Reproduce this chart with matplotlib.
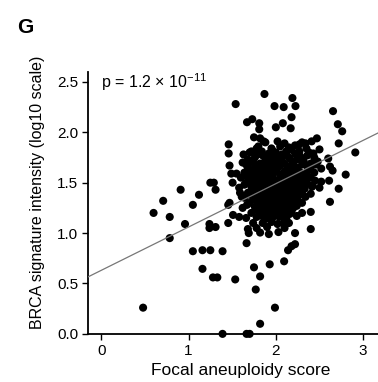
import numpy as np
import matplotlib.pyplot as plt

plt.rcParams['font.family'] = ['Liberation Sans', 'DejaVu Sans']
plt.rcParams['mathtext.fontset'] = 'custom'
plt.rcParams['mathtext.rm'] = 'Liberation Sans'
plt.rcParams['mathtext.it'] = 'Liberation Sans:italic'

# punti isolati (focal aneuploidy score, BRCA intensity)
punti_esterni = [
    (0.48, 0.26), (0.60, 1.20), (0.71, 1.32), (0.785, 1.16), (0.785, 0.95),
    (0.96, 1.09), (1.05, 1.28), (1.12, 1.38), (0.91, 1.43), (1.31, 1.43),
    (1.05, 0.82), (1.16, 0.83), (1.25, 0.83), (1.39, 0.82), (1.16, 0.645),
    (1.28, 0.56), (1.33, 0.56), (1.24, 1.09), (1.24, 1.05), (1.31, 1.06),
    (1.455, 1.28), (1.455, 1.10), (1.39, 0.0), (1.535, 0.54), (1.665, 0.0),
    (1.70, 0.0), (1.82, 0.10), (1.99, 0.26), (1.77, 0.44), (1.82, 0.57),
    (1.75, 0.66), (1.93, 0.69), (2.095, 0.72), (2.14, 0.83), (2.18, 0.87),
    (2.22, 0.89), (2.40, 1.04), (2.40, 1.21), (2.24, 1.17), (2.22, 1.00),
    (2.03, 1.01), (1.665, 0.90), (1.69, 1.00), (1.68, 1.04), (1.82, 1.005),
    (1.92, 0.99), (2.62, 1.31), (1.51, 1.18), (1.58, 1.16), (2.09, 1.10),
    (1.85, 1.10), (2.80, 1.58), (2.72, 1.44), (2.52, 1.51), (2.61, 1.52),
    (2.415, 1.46), (2.26, 1.31), (2.26, 1.37), (2.18, 1.29), (2.65, 1.62),
    (1.87, 2.38), (2.19, 2.34), (1.985, 2.26), (2.09, 2.25), (2.225, 2.26),
    (2.18, 2.15), (2.00, 2.05), (2.08, 2.09), (2.17, 2.04), (2.655, 2.21),
    (2.71, 2.08), (2.76, 2.01), (2.72, 1.89), (2.91, 1.80), (2.47, 1.94),
    (2.41, 1.91), (2.34, 1.89), (2.27, 1.88), (2.22, 1.87), (2.50, 1.83),
    (2.43, 1.79), (2.60, 1.74), (2.62, 1.66), (2.48, 1.71), (1.54, 2.28),
    (1.67, 2.10), (1.73, 2.13), (1.81, 2.09), (1.81, 2.03), (1.75, 1.95),
    (1.82, 1.94), (1.86, 1.91), (1.46, 1.88), (1.46, 1.79), (1.47, 1.67),
    (1.63, 1.78), (1.66, 1.68), (1.72, 1.81), (1.78, 1.84), (1.49, 1.59),
    (1.55, 1.59), (1.25, 1.50), (1.29, 1.50), (1.505, 1.50), (1.59, 1.40),
    (1.61, 1.36), (1.47, 1.30),
]

# nucleo denso della nuvola
punti_nucleo = [
    (1.88, 1.90), (2.02, 1.91), (2.10, 1.89), (2.30, 1.90),
    (1.80, 1.86), (1.95, 1.84), (2.05, 1.86), (2.15, 1.85), (2.35, 1.84),
    (1.70, 1.80), (1.84, 1.81), (1.92, 1.79), (2.00, 1.80), (2.12, 1.81), (2.22, 1.79), (2.38, 1.80),
    (1.76, 1.75), (1.88, 1.74), (1.98, 1.76), (2.06, 1.75), (2.16, 1.74), (2.28, 1.76), (2.44, 1.75),
    (1.62, 1.70), (1.72, 1.71), (1.82, 1.69), (1.90, 1.70), (2.01, 1.71), (2.10, 1.69), (2.20, 1.70), (2.32, 1.71), (2.40, 1.69),
    (1.68, 1.65), (1.78, 1.66), (1.86, 1.64), (1.95, 1.65), (2.04, 1.66), (2.14, 1.64), (2.24, 1.65), (2.36, 1.66), (2.52, 1.64),
    (1.64, 1.60), (1.74, 1.61), (1.84, 1.59), (1.92, 1.60), (2.00, 1.61), (2.08, 1.59), (2.18, 1.60), (2.27, 1.61), (2.34, 1.59), (2.44, 1.60),
    (1.60, 1.55), (1.70, 1.56), (1.80, 1.54), (1.88, 1.55), (1.96, 1.56), (2.05, 1.54), (2.12, 1.55), (2.22, 1.56), (2.31, 1.54), (2.40, 1.55),
    (1.66, 1.50), (1.76, 1.51), (1.85, 1.49), (1.93, 1.50), (2.02, 1.51), (2.10, 1.49), (2.19, 1.50), (2.28, 1.51), (2.36, 1.49),
    (1.58, 1.45), (1.72, 1.46), (1.82, 1.44), (1.90, 1.45), (1.98, 1.46), (2.07, 1.44), (2.16, 1.45), (2.25, 1.46), (2.33, 1.44), (2.50, 1.45),
    (1.68, 1.40), (1.78, 1.41), (1.87, 1.39), (1.95, 1.40), (2.04, 1.41), (2.12, 1.39), (2.21, 1.40), (2.30, 1.41), (2.40, 1.39),
    (1.64, 1.35), (1.74, 1.36), (1.84, 1.34), (1.92, 1.35), (2.00, 1.36), (2.10, 1.34), (2.18, 1.35), (2.34, 1.36),
    (1.70, 1.30), (1.80, 1.31), (1.88, 1.29), (1.97, 1.30), (2.06, 1.31), (2.15, 1.29), (2.30, 1.30),
    (1.62, 1.25), (1.76, 1.26), (1.86, 1.24), (1.94, 1.25), (2.02, 1.26), (2.12, 1.24), (2.20, 1.25),
    (1.72, 1.20), (1.82, 1.21), (1.90, 1.19), (1.99, 1.20), (2.08, 1.21), (2.16, 1.19), (2.30, 1.20),
    (1.66, 1.15), (1.78, 1.16), (1.88, 1.14), (1.96, 1.15), (2.04, 1.16), (2.12, 1.14),
    (1.74, 1.10), (1.95, 1.11), (2.02, 1.09), (2.15, 1.10),
    (1.78, 1.05), (1.90, 1.06), (2.10, 1.05),
    # secondo strato, sfalsato
    (1.79, 1.78), (1.96, 1.82), (2.07, 1.78), (2.18, 1.83), (2.27, 1.81),
    (1.68, 1.73), (1.85, 1.77), (1.94, 1.72), (2.13, 1.77), (2.24, 1.73), (2.36, 1.77),
    (1.76, 1.68), (1.98, 1.68), (2.07, 1.72), (2.17, 1.67), (2.30, 1.68), (2.46, 1.68),
    (1.70, 1.63), (1.80, 1.62), (1.90, 1.67), (2.01, 1.63), (2.11, 1.62), (2.21, 1.63), (2.40, 1.63),
    (1.66, 1.57), (1.76, 1.58), (1.96, 1.58), (2.05, 1.57), (2.14, 1.58), (2.25, 1.58), (2.36, 1.57),
    (1.72, 1.53), (1.84, 1.52), (1.92, 1.53), (2.00, 1.52), (2.08, 1.52), (2.16, 1.53), (2.24, 1.52), (2.33, 1.52), (2.45, 1.52),
    (1.64, 1.48), (1.78, 1.47), (1.88, 1.47), (1.97, 1.48), (2.06, 1.47), (2.14, 1.47), (2.22, 1.48), (2.31, 1.47), (2.42, 1.47),
    (1.74, 1.43), (1.86, 1.42), (1.94, 1.43), (2.02, 1.43), (2.10, 1.42), (2.20, 1.43), (2.28, 1.42),
    (1.70, 1.38), (1.80, 1.38), (1.90, 1.37), (1.98, 1.38), (2.07, 1.37), (2.16, 1.38), (2.26, 1.38),
    (1.76, 1.33), (1.86, 1.32), (1.94, 1.33), (2.03, 1.33), (2.12, 1.32), (2.22, 1.33),
    (1.67, 1.28), (1.84, 1.27), (1.92, 1.28), (2.00, 1.28), (2.09, 1.27), (2.24, 1.27),
    (1.78, 1.23), (1.88, 1.22), (1.97, 1.22), (2.06, 1.23), (2.18, 1.22),
    (1.84, 1.17), (1.92, 1.17), (2.00, 1.18), (2.08, 1.17),
]

# retta di regressione
pendenza = 0.43
intercetta = 0.63
testo_p = r'p = 1.2 × 10$^{-11}$'

punti = np.array(punti_esterni + punti_nucleo)
score = punti[:, 0]
intensita = punti[:, 1]

fig = plt.figure(figsize=(3.78, 3.82), dpi=100)
ax = fig.add_axes([0.233, 0.126, 0.767, 0.686])

ax.scatter(score, intensita, s=34, color='black', edgecolors='none', zorder=3, clip_on=False)
ax.axline((0, intercetta), slope=pendenza, color='#777777', linewidth=0.9, zorder=4)

ax.set_xlim(-0.15, 3.17)
ax.set_ylim(0, 2.6)
ax.set_xticks([0, 1, 2, 3])
ax.set_yticks([0.0, 0.5, 1.0, 1.5, 2.0, 2.5])
ax.set_yticklabels(['0.0', '0.5', '1.0', '1.5', '2.0', '2.5'])
ax.tick_params(labelsize=11, length=4, width=1, color='black', direction='out', pad=3)

for lato in ['top', 'right']:
    ax.spines[lato].set_visible(False)
for lato in ['left', 'bottom']:
    ax.spines[lato].set_linewidth(1.3)

ax.set_xlabel('Focal aneuploidy score', fontsize=12.5)
ax.set_ylabel('BRCA signature intensity (log10 scale)', fontsize=11.5)
ax.xaxis.set_label_coords(0.528, -0.112)
ax.yaxis.set_label_coords(-0.148, 0.54)

ax.text(0.0, 2.5, testo_p, fontsize=11.5, ha='left', va='center')
fig.text(0.045, 0.929, 'G', fontsize=15, fontweight='bold', ha='left', va='center')

fig.savefig('out.png', dpi=100)
